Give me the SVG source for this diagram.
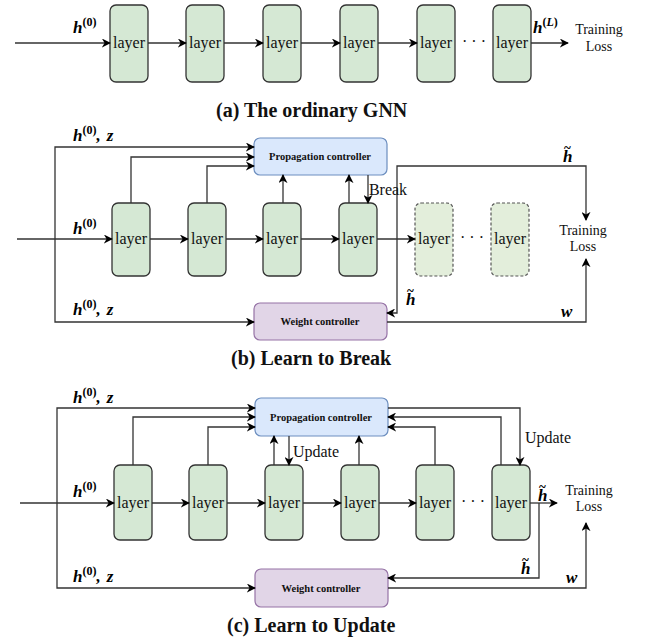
<svg xmlns="http://www.w3.org/2000/svg" width="645" height="641" viewBox="0 0 645 641">
<defs>
<marker id="arr" viewBox="0 0 10 10" refX="9" refY="5" markerWidth="9" markerHeight="9" markerUnits="userSpaceOnUse" orient="auto">
<path d="M0,0 L10,5 L0,10 L3,5 z" fill="#000"/>
</marker>
<style>
.layer{fill:#d5e8d4;stroke:#333;stroke-width:1.3}
.ghost{fill:#e3eedb;stroke:#555;stroke-width:1.2;stroke-dasharray:3,2}
.prop{fill:#dae8fc;stroke:#6c8ebf;stroke-width:1.2}
.wt{fill:#e1d5e7;stroke:#9673a6;stroke-width:1.2}
.lt{font-family:"Liberation Serif",serif;font-size:16px;fill:#111;text-anchor:middle}
.sm{font-family:"Liberation Serif",serif;font-size:14px;fill:#111;text-anchor:middle}
.ctl{font-family:"Liberation Serif",serif;font-size:10.5px;font-weight:bold;fill:#111;text-anchor:middle}
.cap{font-family:"Liberation Serif",serif;font-size:20px;font-weight:bold;fill:#111}
.m{font-family:"Liberation Serif",serif;font-size:17px;font-weight:bold;font-style:italic;fill:#000}
.tl{font-size:13px;font-style:normal}
.sup{font-size:12px;font-style:normal}
.dots{font-family:"Liberation Serif",serif;font-size:16px;fill:#111;text-anchor:middle}
.ca{fill:none;stroke:#333;stroke-width:1.3;marker-end:url(#arr)}
</style>
</defs>

<!-- ===== (a) ===== -->
<g id="a-nodes">
<g id="a-l1"><rect class="layer" x="110" y="5" width="38" height="77" rx="6"/><text class="lt" x="129" y="48">layer</text></g>
<g id="a-l2"><rect class="layer" x="186" y="5" width="38" height="77" rx="6"/><text class="lt" x="205" y="48">layer</text></g>
<g id="a-l3"><rect class="layer" x="263" y="5" width="38" height="77" rx="6"/><text class="lt" x="282" y="48">layer</text></g>
<g id="a-l4"><rect class="layer" x="340" y="5" width="38" height="77" rx="6"/><text class="lt" x="359" y="48">layer</text></g>
<g id="a-l5"><rect class="layer" x="417" y="5" width="38" height="77" rx="6"/><text class="lt" x="436" y="48">layer</text></g>
<g id="a-l6"><rect class="layer" x="493" y="5" width="38" height="77" rx="6"/><text class="lt" x="512" y="48">layer</text></g>
<g id="a-loss"><text class="sm" x="599" y="34">Training</text><text class="sm" x="599" y="51">Loss</text></g>
</g>
<g id="a-connectors">
<path class="ca" d="M15,43 H110"/>
<path class="ca" d="M148,43 H186"/>
<path class="ca" d="M224,43 H263"/>
<path class="ca" d="M301,43 H340"/>
<path class="ca" d="M378,43 H417"/>
<path class="ca" d="M531,43 H568"/>
</g>
<g id="a-labels">
<text class="m" x="73" y="33">h<tspan class="sup" dy="-7">(0)</tspan></text>
<text class="m" x="533" y="33">h<tspan class="sup" dy="-7">(<tspan font-style="italic">L</tspan>)</tspan></text>
<text class="dots" x="474" y="47">· · ·</text>
<text class="cap" x="216" y="117">(a) The ordinary GNN</text>
</g>

<!-- ===== (b) ===== -->
<g id="b-nodes">
<g id="b-l1"><rect class="layer" x="112" y="203" width="38" height="73" rx="6"/><text class="lt" x="131" y="244">layer</text></g>
<g id="b-l2"><rect class="layer" x="188" y="203" width="38" height="73" rx="6"/><text class="lt" x="207" y="244">layer</text></g>
<g id="b-l3"><rect class="layer" x="263" y="203" width="38" height="73" rx="6"/><text class="lt" x="282" y="244">layer</text></g>
<g id="b-l4"><rect class="layer" x="339" y="203" width="38" height="73" rx="6"/><text class="lt" x="358" y="244">layer</text></g>
<g id="b-l5"><rect class="ghost" x="415" y="203" width="38" height="73" rx="6"/><text class="lt" x="434" y="244">layer</text></g>
<g id="b-l6"><rect class="ghost" x="491" y="203" width="38" height="73" rx="6"/><text class="lt" x="510" y="244">layer</text></g>
<g id="b-prop"><rect class="prop" x="254" y="138" width="133" height="37" rx="6"/><text class="ctl" x="320" y="160">Propagation controller</text></g>
<g id="b-weight"><rect class="wt" x="254" y="303" width="133" height="37" rx="6"/><text class="ctl" x="320" y="325">Weight controller</text></g>
<g id="b-loss"><text class="sm" x="583" y="235">Training</text><text class="sm" x="583" y="251">Loss</text></g>
</g>
<g id="b-connectors">
<path class="ca" d="M17,239 H112"/>
<path class="ca" d="M150,239 H188"/>
<path class="ca" d="M226,239 H263"/>
<path class="ca" d="M301,239 H339"/>
<path class="ca" d="M377,239 H415"/>
<path class="ca" d="M55,239 V147 H254"/>
<path class="ca" d="M55,239 V322 H254"/>
<path class="ca" d="M131,203 V157 H254"/>
<path class="ca" d="M207,203 V166 H254"/>
<path class="ca" d="M283,203 V175"/>
<path class="ca" d="M349,203 V175"/>
<path class="ca" d="M368,175 V203"/>
<path class="ca" d="M397,239 V166 H586 V220"/>
<path class="ca" d="M397,239 V313 H387"/>
<path class="ca" d="M387,322 H586 V259"/>
</g>
<g id="b-labels">
<text class="m" x="73" y="141">h<tspan class="sup" dy="-7">(0)</tspan><tspan dy="7">,</tspan><tspan dx="6">z</tspan></text>
<text class="m" x="73" y="234">h<tspan class="sup" dy="-7">(0)</tspan></text>
<text class="m" x="73" y="315">h<tspan class="sup" dy="-7">(0)</tspan><tspan dy="7">,</tspan><tspan dx="6">z</tspan></text>
<text class="lt" x="388" y="195">Break</text>
<text class="m" x="563" y="162">h<tspan class="tl" dx="-8.5" dy="-10">~</tspan></text>
<text class="m" x="406" y="305">h<tspan class="tl" dx="-8.5" dy="-10">~</tspan></text>
<text class="m" x="561" y="317">w</text>
<text class="dots" x="472" y="243">· · ·</text>
<text class="cap" x="231" y="365">(b) Learn to Break</text>
</g>

<!-- ===== (c) ===== -->
<g id="c-nodes">
<g id="c-l1"><rect class="layer" x="114" y="465" width="38" height="75" rx="6"/><text class="lt" x="133" y="508">layer</text></g>
<g id="c-l2"><rect class="layer" x="189" y="465" width="38" height="75" rx="6"/><text class="lt" x="208" y="508">layer</text></g>
<g id="c-l3"><rect class="layer" x="265" y="465" width="38" height="75" rx="6"/><text class="lt" x="284" y="508">layer</text></g>
<g id="c-l4"><rect class="layer" x="341" y="465" width="38" height="75" rx="6"/><text class="lt" x="360" y="508">layer</text></g>
<g id="c-l5"><rect class="layer" x="416" y="465" width="38" height="75" rx="6"/><text class="lt" x="435" y="508">layer</text></g>
<g id="c-l6"><rect class="layer" x="492" y="465" width="38" height="75" rx="6"/><text class="lt" x="511" y="508">layer</text></g>
<g id="c-prop"><rect class="prop" x="255" y="398" width="133" height="38" rx="6"/><text class="ctl" x="321" y="421">Propagation controller</text></g>
<g id="c-weight"><rect class="wt" x="255" y="569" width="133" height="38" rx="6"/><text class="ctl" x="321" y="592">Weight controller</text></g>
<g id="c-loss"><text class="sm" x="589" y="495">Training</text><text class="sm" x="589" y="511">Loss</text></g>
</g>
<g id="c-connectors">
<path class="ca" d="M20,503 H114"/>
<path class="ca" d="M152,503 H189"/>
<path class="ca" d="M227,503 H265"/>
<path class="ca" d="M303,503 H341"/>
<path class="ca" d="M379,503 H416"/>
<path class="ca" d="M57,503 V408 H255"/>
<path class="ca" d="M57,503 V588 H255"/>
<path class="ca" d="M133,465 V417 H255"/>
<path class="ca" d="M208,465 V427 H255"/>
<path class="ca" d="M274,465 V436"/>
<path class="ca" d="M289,436 V465"/>
<path class="ca" d="M359,465 V436"/>
<path class="ca" d="M435,465 V427 H388"/>
<path class="ca" d="M501,465 V417 H388"/>
<path class="ca" d="M388,408 H520 V465"/>
<path class="ca" d="M530,503 H557"/>
<path class="ca" d="M539,503 V578 H388"/>
<path class="ca" d="M388,588 H586 V523"/>
</g>
<g id="c-labels">
<text class="m" x="73" y="403">h<tspan class="sup" dy="-7">(0)</tspan><tspan dy="7">,</tspan><tspan dx="6">z</tspan></text>
<text class="m" x="73" y="497">h<tspan class="sup" dy="-7">(0)</tspan></text>
<text class="m" x="73" y="582">h<tspan class="sup" dy="-7">(0)</tspan><tspan dy="7">,</tspan><tspan dx="6">z</tspan></text>
<text class="lt" x="316" y="457">Update</text>
<text class="lt" x="548" y="443">Update</text>
<text class="m" x="538" y="501">h<tspan class="tl" dx="-8.5" dy="-10">~</tspan></text>
<text class="m" x="521" y="574">h<tspan class="tl" dx="-8.5" dy="-10">~</tspan></text>
<text class="m" x="566" y="583">w</text>
<text class="dots" x="473" y="507">· · ·</text>
<text class="cap" x="227" y="632">(c) Learn to Update</text>
</g>
</svg>
